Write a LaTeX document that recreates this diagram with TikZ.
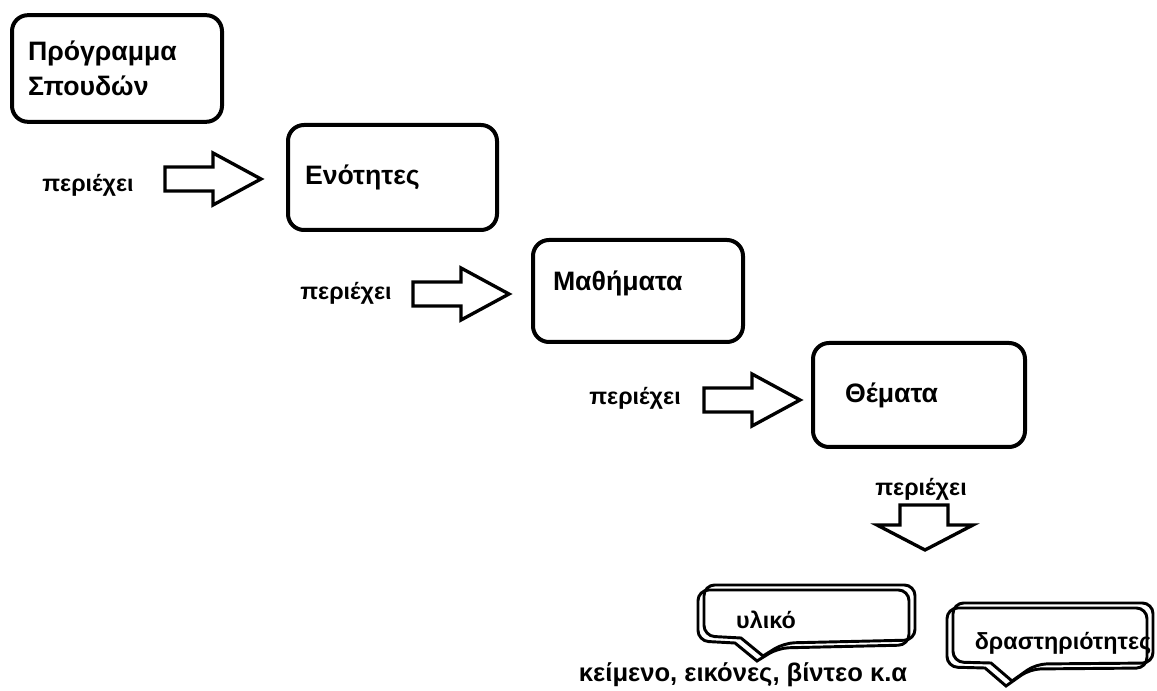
\documentclass[tikz,border=0pt]{standalone}
\usepackage{fontspec}
\setmainfont{Liberation Sans}

\tikzset{
  stepbox/.style={draw, line width=3pt, rounded corners=12pt, align=left,
    font=\bfseries\fontsize{20}{26}\selectfont, inner ysep=0pt},
  relword/.style={inner sep=0pt, font=\bfseries\fontsize{17.5}{20}\selectfont},
  blockarrow/.style={draw, line width=2.5pt, fill=white, line join=miter},
  callout/.style={draw, line width=2.2pt, rounded corners=8pt},
  pics/fatarrow/.style={code={
    \draw[blockarrow] (0,-12) -- (48,-12) -- (48,-26) -- (96,0) -- (48,26) -- (48,12) -- (0,12) -- cycle;
  }}
}

\begin{document}
\begin{tikzpicture}[x=0.75pt,y=0.75pt,yscale=-1,xscale=1]
	\useasboundingbox (0,0) rectangle (1157,691);
	% boxes
	\node[stepbox, minimum width=157.5pt, minimum height=80pt, inner xsep=12pt, text width=133.5pt] (prog) at (117,68.5) {Πρόγραμμα\\Σπουδών};
	\node[stepbox, minimum width=156.75pt, minimum height=78.75pt, inner xsep=12.75pt, text width=131.25pt] (enot) at (392.5,177.5) {Ενότητες};
	\node[stepbox, minimum width=157.5pt, minimum height=76.5pt, inner xsep=15pt, text width=127.5pt, text depth=16pt] (math) at (638,291) {Μαθήματα};
	\node[stepbox, minimum width=159pt, minimum height=78pt, inner xsep=24pt, text width=111pt] (them) at (919,395) {Θέματα};
	% words
	\node[relword] (has1) at (88,185) {περιέχει};
	\node[relword] (has2) at (346,293) {περιέχει};
	\node[relword] (has3) at (635,398) {περιέχει};
	\node[relword] (has4) at (921,489) {περιέχει};
	% arrows
	\pic at (165,179) {fatarrow};
	\pic at (413,294) {fatarrow};
	\pic at (704,400) {fatarrow};
	\draw[blockarrow] (900,505) -- (948,505) -- (948,525) -- (973,525) -- (925,550) -- (877,525) -- (900,525) -- cycle;
	% callouts
	\foreach \dx/\dy in {0/0, 6/-5} {
		\draw[callout, shift={(\dx,\dy)}] (698,590) -- (909,590) -- (909,645) -- (778,648) [sharp corners] -- (757,661) -- (735,643) [rounded corners=8pt] -- (698,641) -- cycle;
		\draw[callout, shift={(\dx,\dy)}] (947,608) -- (1147,608) -- (1147,668) -- (1030,669) [sharp corners] -- (1006,686) -- (985,668) [rounded corners=8pt] -- (947,667) -- cycle;
	}
	\node[relword] (ylik) at (766,620) {υλικό};
	\node[relword] (drast) at (1063,643) {δραστηριότητες};
	\node[relword, font=\bfseries\fontsize{19.2}{22}\selectfont] (kein) at (743,675) {κείμενο, εικόνες, βίντεο κ.α};
\end{tikzpicture}
\end{document}
